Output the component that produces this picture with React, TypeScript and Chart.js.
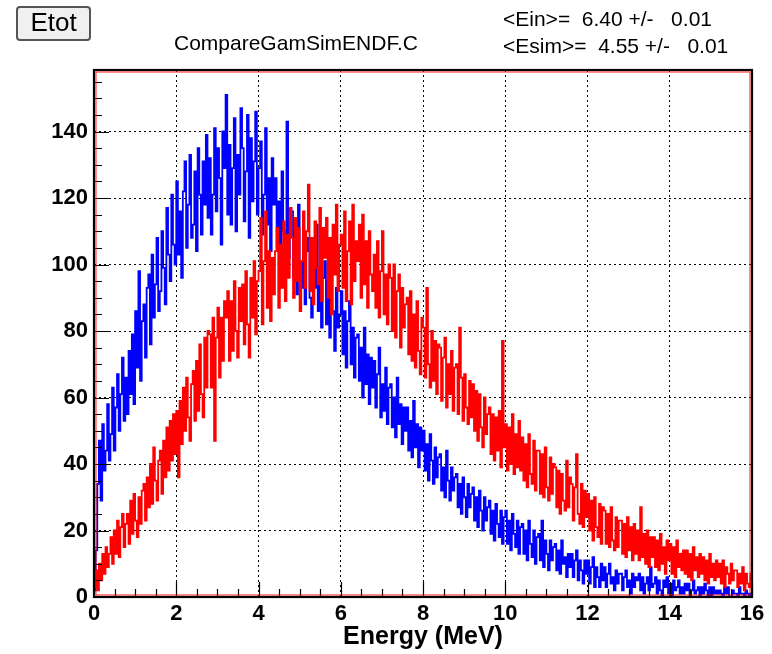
import React, { useEffect, useRef } from "react";
import { Chart, registerables } from "chart.js";

Chart.register(...registerables);

// Histogram binning (MeV)
const BIN_WIDTH = 0.04;
const E_MIN = 0;
const E_MAX = 16;
const Y_MAX = 158.5;

// Incident gamma energy spectrum (red), counts per bin
const einCounts = [
  3, 8, 2, 10, 5, 13, 7, 15, 9, 13,
  18, 10, 20, 13, 23, 12, 21, 25, 15, 22,
  25, 16, 29, 19, 31, 23, 18, 30, 22, 32,
  34, 23, 36, 27, 40, 28, 45, 35, 29, 41,
  44, 31, 47, 36, 51, 38, 53, 41, 55, 43,
  56, 36, 59, 46, 63, 50, 66, 54, 47, 64,
  68, 53, 71, 56, 76, 61, 54, 78, 63, 80,
  79, 63, 84, 47, 78, 87, 66, 84, 71, 89,
  84, 92, 71, 89, 74, 95, 80, 72, 93, 83,
  94, 76, 98, 82, 72, 96, 84, 101, 79, 95,
  98, 114, 82, 101, 116, 87, 104, 83, 102, 91,
  104, 111, 87, 106, 93, 113, 89, 109, 96, 117,
  108, 90, 114, 95, 111, 86, 101, 116, 93, 110,
  124, 92, 108, 88, 113, 99, 94, 117, 89, 111,
  102, 114, 90, 108, 85, 112, 97, 118, 92, 106,
  109, 93, 116, 89, 104, 113, 88, 118, 95, 107,
  101, 112, 90, 115, 94, 107, 87, 110, 97, 92,
  103, 87, 107, 84, 98, 110, 85, 97, 82, 100,
  96, 80, 100, 78, 92, 97, 75, 93, 81, 88,
  90, 73, 92, 71, 85, 69, 89, 74, 67, 84,
  81, 66, 93, 70, 63, 80, 65, 77, 61, 76,
  75, 59, 72, 78, 57, 70, 61, 74, 56, 69,
  70, 55, 81, 66, 53, 67, 57, 52, 65, 54,
  64, 50, 62, 47, 61, 51, 45, 60, 49, 55,
  57, 43, 55, 41, 54, 44, 56, 39, 77, 45,
  52, 38, 51, 40, 55, 37, 49, 39, 53, 38,
  48, 35, 46, 33, 49, 37, 34, 47, 32, 44,
  44, 31, 43, 30, 45, 33, 29, 42, 31, 40,
  39, 27, 38, 25, 37, 29, 26, 41, 27, 36,
  34, 23, 33, 43, 25, 22, 34, 21, 32, 24,
  31, 20, 29, 17, 30, 21, 18, 28, 16, 27,
  26, 16, 25, 15, 27, 17, 14, 24, 15, 23,
  23, 13, 22, 12, 24, 14, 21, 11, 22, 13,
  20, 11, 27, 12, 19, 10, 20, 9, 18, 12,
  18, 9, 17, 8, 19, 10, 15, 7, 17, 11,
  16, 7, 15, 6, 17, 9, 13, 8, 14, 7,
  14, 6, 13, 5, 15, 8, 12, 6, 13, 7,
  12, 5, 11, 4, 13, 6, 10, 5, 11, 6,
  10, 4, 11, 3, 9, 7, 4, 10, 5, 8,
  8, 3, 7, 4, 9, 2, 7, 4, 3, 7,
];

// Simulated deposited energy spectrum (blue), counts per bin
const esimCounts = [
  2, 14, 34, 47, 29, 52, 38, 44, 58, 41,
  49, 63, 44, 57, 67, 50, 61, 72, 53, 66,
  55, 74, 61, 79, 58, 86, 69, 98, 65, 83,
  88, 72, 93, 97, 76, 103, 84, 94, 108, 86,
  92, 110, 99, 88, 117, 103, 95, 121, 106, 100,
  125, 103, 116, 96, 122, 131, 105, 118, 133, 108,
  112, 128, 104, 135, 121, 109, 131, 118, 139, 114,
  132, 109, 121, 141, 116, 135, 126, 106, 140, 129,
  151, 115, 136, 112, 129, 144, 110, 133, 121, 147,
  135, 113, 128, 145, 108, 138, 119, 131, 146, 115,
  129, 137, 109, 121, 141, 112, 126, 104, 132, 118,
  126, 105, 119, 101, 128, 110, 103, 143, 102, 117,
  116, 96, 110, 91, 118, 100, 93, 109, 88, 104,
  108, 90, 84, 104, 93, 112, 86, 99, 81, 96,
  101, 82, 95, 78, 99, 86, 74, 93, 81, 85,
  92, 73, 86, 69, 83, 89, 70, 81, 66, 78,
  79, 65, 75, 60, 81, 64, 73, 58, 72, 63,
  71, 57, 67, 75, 54, 64, 56, 69, 52, 63,
  64, 51, 60, 48, 66, 52, 58, 46, 57, 50,
  57, 44, 53, 42, 59, 45, 52, 39, 51, 44,
  50, 38, 46, 35, 49, 41, 34, 45, 36, 42,
  43, 32, 39, 30, 44, 35, 29, 39, 32, 36,
  37, 27, 34, 25, 36, 30, 24, 34, 27, 31,
  33, 23, 30, 21, 32, 26, 20, 30, 23, 27,
  29, 19, 26, 17, 28, 22, 18, 26, 16, 24,
  26, 16, 23, 14, 25, 19, 15, 23, 13, 21,
  22, 13, 20, 11, 23, 16, 12, 20, 10, 18,
  19, 11, 23, 9, 17, 13, 8, 17, 11, 15,
  16, 8, 14, 7, 17, 10, 12, 6, 13, 9,
  13, 6, 11, 14, 5, 11, 8, 4, 11, 7,
  11, 4, 9, 12, 3, 9, 6, 3, 10, 5,
  9, 3, 7, 10, 4, 6, 2, 8, 4, 7,
  7, 2, 6, 8, 3, 5, 1, 7, 3, 6,
  5, 7, 2, 6, 1, 4, 6, 2, 9, 3,
  4, 6, 1, 5, 2, 0, 5, 3, 6, 1,
  4, 0, 5, 2, 3, 5, 1, 3, 1, 4,
  2, 4, 0, 2, 5, 1, 2, 3, 0, 3,
  1, 4, 2, 0, 3, 0, 3, 1, 2, 1,
  2, 1, 0, 3, 1, 3, 0, 0, 2, 1,
  1, 0, 3, 1, 1, 0, 2, 1, 0, 1,
];

const buttonLabel = "Etot";
const canvasTitle = "CompareGamSimENDF.C";
const statLines = ["<Ein>=  6.40 +/-   0.01", "<Esim>=  4.55 +/-   0.01"];
const xAxisTitle = "Energy (MeV)";
const X_STEP = 2;
const X_MINOR = 0.5;
const Y_STEP = 20;
const Y_MINOR = 5;

const FONT = '"Liberation Sans", Arial, Helvetica, sans-serif';

// Turn bin contents into left-edge points for a stepped outline
function toSteps(counts: number[]) {
  const pts = counts.map((c, i) => ({ x: E_MIN + i * BIN_WIDTH, y: c }));
  pts.push({ x: E_MIN + counts.length * BIN_WIDTH, y: counts[counts.length - 1] });
  return pts;
}

const framePlugin = {
  id: "rootFrame",
  afterDraw(chart: any) {
    const ctx = chart.ctx as CanvasRenderingContext2D;
    const { left, right, top, bottom } = chart.chartArea;
    const xs = chart.scales.x;
    const ys = chart.scales.y;
    ctx.save();

    // inward tick marks
    ctx.strokeStyle = "#000";
    ctx.lineWidth = 1.2;
    ctx.beginPath();
    for (let v = E_MIN; v <= E_MAX + 1e-9; v += X_MINOR) {
      const px = Math.round(xs.getPixelForValue(v)) + 0.5;
      const major = Math.abs(v / X_STEP - Math.round(v / X_STEP)) < 1e-6;
      const len = major ? 15 : 8;
      ctx.moveTo(px, bottom);
      ctx.lineTo(px, bottom - len);
    }
    for (let v = 0; v <= Y_MAX; v += Y_MINOR) {
      const py = Math.round(ys.getPixelForValue(v)) + 0.5;
      const major = v % Y_STEP === 0;
      const len = major ? 15 : 8;
      ctx.moveTo(left, py);
      ctx.lineTo(left + len, py);
    }
    ctx.stroke();

    // frame: red inner line with dark outer line
    ctx.strokeStyle = "#ff0000";
    ctx.lineWidth = 1.2;
    ctx.globalAlpha = 0.75;
    ctx.strokeRect(left + 2, top + 2, right - left - 4, bottom - top - 4);
    ctx.globalAlpha = 1;
    ctx.strokeStyle = "#000";
    ctx.lineWidth = 2.2;
    ctx.strokeRect(left, top, right - left, bottom - top);

    // button
    ctx.fillStyle = "#f0f0f0";
    ctx.strokeStyle = "#555";
    ctx.lineWidth = 2;
    ctx.beginPath();
    (ctx as any).roundRect(17, 7, 73, 33, 3);
    ctx.fill();
    ctx.stroke();
    ctx.fillStyle = "#000";
    ctx.font = `26px ${FONT}`;
    ctx.textAlign = "center";
    ctx.textBaseline = "middle";
    ctx.fillText(buttonLabel, 53.5, 24);

    // canvas title and summary lines
    ctx.font = `21px ${FONT}`;
    ctx.textAlign = "left";
    ctx.fillText(canvasTitle, 174, 44);
    ctx.fillText(statLines[0], 503, 20);
    ctx.fillText(statLines[1], 503, 47);

    ctx.restore();
  },
};

export default function App() {
  const ref = useRef<HTMLCanvasElement | null>(null);

  useEffect(() => {
    if (!ref.current) return;
    const chart = new Chart(ref.current, {
      type: "line",
      data: {
        datasets: [
          {
            label: "Ein",
            data: toSteps(einCounts),
            borderColor: "#ff0000",
            borderWidth: 1.8,
            pointRadius: 0,
            stepped: true,
            fill: false,
          },
          {
            label: "Esim",
            data: toSteps(esimCounts),
            borderColor: "#0000ff",
            borderWidth: 1.8,
            pointRadius: 0,
            stepped: true,
            fill: false,
          },
        ],
      },
      options: {
        responsive: false,
        animation: false,
        events: [],
        layout: { padding: { top: 70, right: 20, left: 0, bottom: 0 } },
        plugins: {
          legend: { display: false },
          tooltip: { enabled: false },
          title: { display: false },
        },
        scales: {
          x: {
            type: "linear",
            min: E_MIN,
            max: E_MAX,
            afterFit: (s: any) => {
              s.height = 57;
            },
            ticks: {
              stepSize: X_STEP,
              includeBounds: false,
              color: "#000",
              padding: 4,
              maxRotation: 0,
              autoSkip: false,
              font: { family: FONT, size: 22, weight: "bold" },
            },
            grid: { color: "#000", lineWidth: 1, drawTicks: false, borderDash: [2, 3] },
            border: { display: false, dash: [2, 3] },
            title: {
              display: true,
              text: xAxisTitle,
              color: "#000",
              font: { family: FONT, size: 25, weight: "bold" },
              padding: { top: 0, bottom: 2 },
            },
          },
          y: {
            type: "linear",
            min: 0,
            max: Y_MAX,
            afterFit: (s: any) => {
              s.width = 94;
            },
            ticks: {
              stepSize: Y_STEP,
              includeBounds: false,
              color: "#000",
              padding: 6,
              font: { family: FONT, size: 22, weight: "bold" },
            },
            grid: { color: "#000", lineWidth: 1, drawTicks: false, borderDash: [2, 3] },
            border: { display: false, dash: [2, 3] },
          },
        },
      },
      plugins: [framePlugin],
    } as any);
    return () => chart.destroy();
  }, []);

  return (
    <div style={{ position: "absolute", left: 0, top: 0, width: 772, height: 654, background: "#fff" }}>
      <canvas ref={ref} width={772} height={654} style={{ display: "block" }} />
    </div>
  );
}
